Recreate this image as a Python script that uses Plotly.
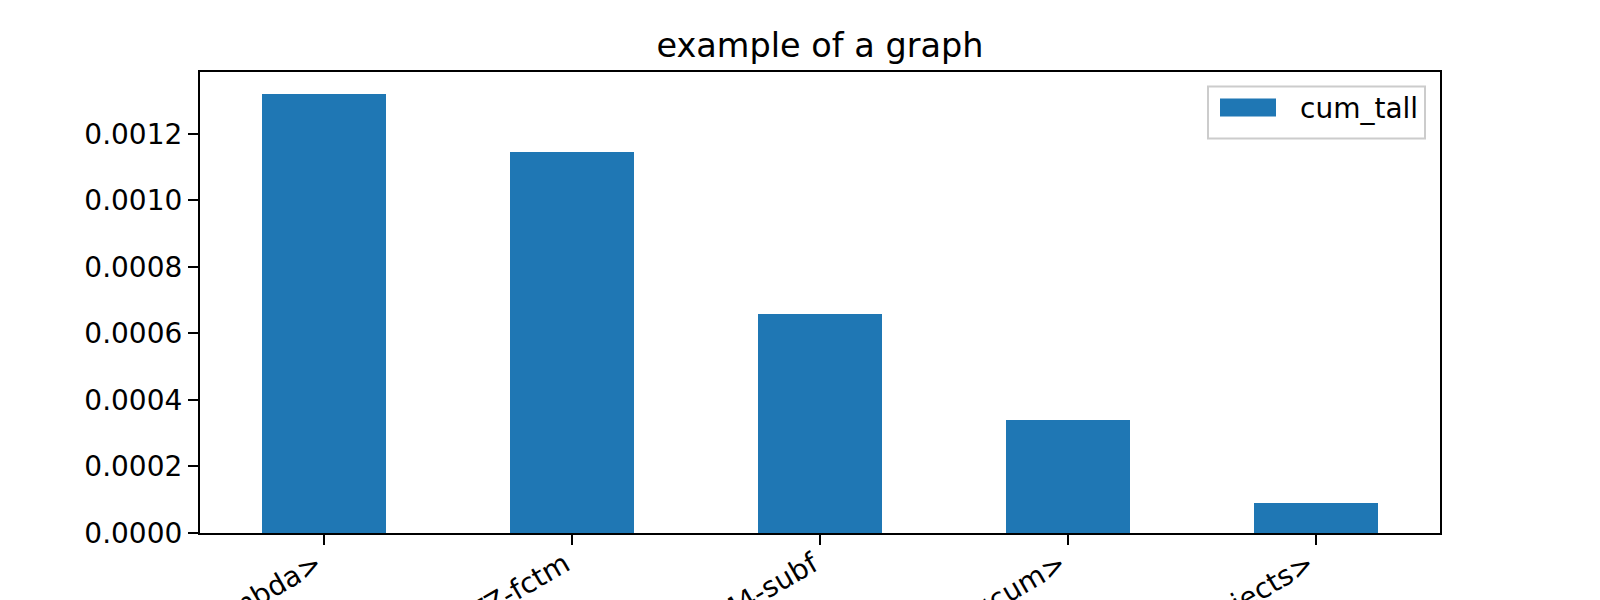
import plotly.graph_objects as go

categories = ["<lambda>", "MTZ-fctm", "M4-subf", "<cum>", "<objects>"]
values = [0.001320, 0.001146, 0.000658, 0.000339, 0.0000902]
series_name = "cum_tall"
title_text = "example of a graph"

BLUE = "#1f77b4"
FONT = "DejaVu Sans"

fig = go.Figure()
fig.add_trace(go.Bar(
    x=list(range(len(categories))), y=values, name=series_name,
    marker=dict(color=BLUE, line=dict(width=0)), width=0.5, showlegend=False,
))

L, R, T, B = 200, 160, 71.5, 67
fig.update_layout(
    width=1600, height=600,
    margin=dict(l=L, r=R, t=T, b=B, pad=0, autoexpand=False),
    plot_bgcolor="white", paper_bgcolor="white",
    font=dict(family=FONT, size=28, color="black"),
    title=dict(text=title_text, x=820/1600, xanchor="center", y=1-45/600, yanchor="middle",
               font=dict(family=FONT, size=33.5, color="black")),
    xaxis=dict(
        range=[-0.5, 4.5], tickmode="array", tickvals=list(range(len(categories))),
        ticktext=categories, tickangle=-30, automargin=False,
        ticklabelshift=-7, ticklabelstandoff=-8,
        showline=True, linecolor="black", linewidth=2.2, mirror=True,
        ticks="outside", ticklen=10, tickwidth=2.2, tickcolor="black",
        showgrid=False, zeroline=False,
        tickfont=dict(family=FONT, size=28, color="black"),
    ),
    yaxis=dict(
        range=[0, 0.001386], tickmode="linear", tick0=0, dtick=0.0002, tickformat=".4f",
        automargin=False,
        showline=True, linecolor="black", linewidth=2.2, mirror=True,
        ticks="outside", ticklen=10, tickwidth=2.2, tickcolor="black",
        showgrid=False, zeroline=False,
        tickfont=dict(family=FONT, size=28, color="black"),
    ),
    bargap=0,
)

fig.add_shape(type="rect", xref="paper", yref="paper",
              x0=(1208 - L) / 1240, x1=(1425 - L) / 1240,
              y0=(533 - 138) / 461.5, y1=(533 - 86) / 461.5,
              line=dict(color="#cccccc", width=2), fillcolor="rgba(255,255,255,0.8)")
fig.add_shape(type="rect", xref="paper", yref="paper",
              x0=(1220 - L) / 1240, x1=(1276 - L) / 1240,
              y0=(533 - 116) / 461.5, y1=(533 - 98) / 461.5,
              line=dict(width=0), fillcolor=BLUE)
fig.add_annotation(xref="paper", yref="paper", x=(1298 - L) / 1240, y=(533 - 108) / 461.5,
                   text=series_name, showarrow=False, xanchor="left", yanchor="middle",
                   font=dict(family=FONT, size=28, color="black"))

fig.write_html("out.html", config={"displayModeBar": False},
               post_script="document.body.style.margin='0';document.body.style.overflow='hidden';")
